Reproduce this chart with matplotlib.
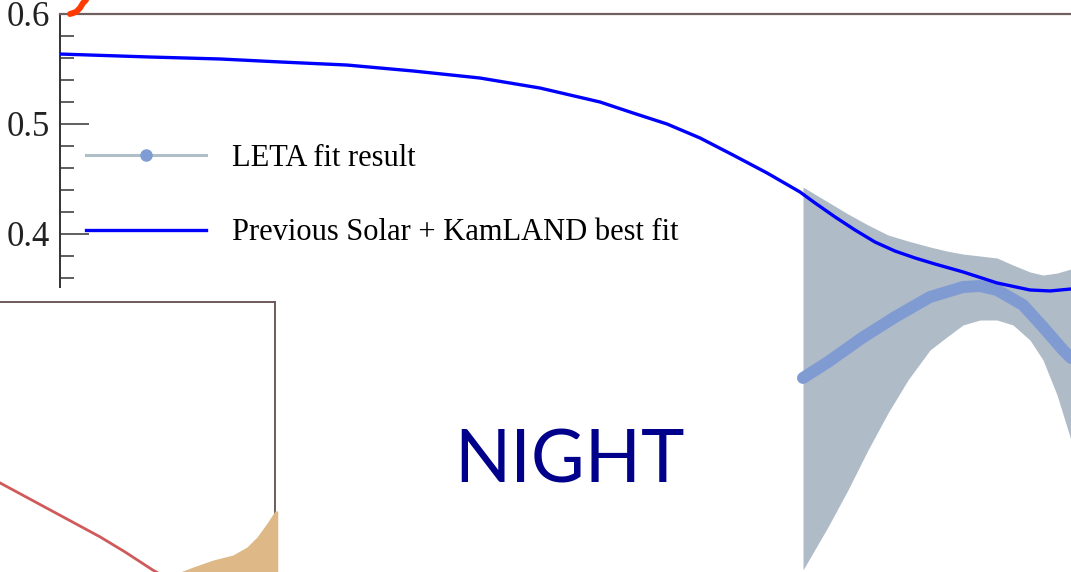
import matplotlib
matplotlib.use("Agg")
import matplotlib.pyplot as plt
from matplotlib.lines import Line2D

# survival probability curves, energy in MeV
best_fit_x = [0.000, 0.890, 1.583, 2.176, 2.839, 3.492, 4.154, 4.748, 5.341,
              5.668, 6.004, 6.330, 6.657, 6.993, 7.319, 7.468, 7.666, 7.864,
              8.061, 8.259, 8.457, 8.655, 8.932, 9.268, 9.594, 9.792, 10.000]
best_fit_y = [0.5636, 0.5609, 0.5591, 0.5564, 0.5536, 0.5482, 0.5418, 0.5327,
              0.5200, 0.5100, 0.5000, 0.4873, 0.4718, 0.4555, 0.4382, 0.4282,
              0.4155, 0.4036, 0.3927, 0.3845, 0.3782, 0.3727, 0.3655, 0.3555,
              0.3491, 0.3482, 0.3500]

leta_x = [7.349, 7.596, 7.794, 7.992, 8.190, 8.388, 8.605, 8.773, 8.932,
          9.100, 9.268, 9.426, 9.594, 9.723, 9.862, 10.000]
leta_hi = [0.4427, 0.4291, 0.4182, 0.4082, 0.3991, 0.3936, 0.3882, 0.3845,
           0.3818, 0.3800, 0.3782, 0.3718, 0.3655, 0.3627, 0.3645, 0.3682]
leta_lo = [0.0945, 0.1336, 0.1673, 0.2036, 0.2373, 0.2673, 0.2945, 0.3064,
           0.3173, 0.3218, 0.3218, 0.3173, 0.3036, 0.2855, 0.2536, 0.2127]
leta_mid_x = [7.349, 7.596, 7.933, 8.259, 8.605, 8.932, 9.100, 9.268, 9.525,
              9.723, 9.921, 10.000]
leta_mid_y = [0.2691, 0.2836, 0.3055, 0.3245, 0.3427, 0.3518, 0.3527, 0.3491,
              0.3355, 0.3155, 0.2945, 0.2873]

# small panel in the lower left
day_x = [0.0, 0.182, 0.364, 0.455, 0.556, 0.62]
day_y = [0.33, 0.23, 0.13, 0.074, 0.007, -0.03]
tan_x = [0.655, 0.702, 0.775, 0.847, 0.898, 0.935, 0.971, 1.0, 1.01]
tan_y = [0.0, 0.0185, 0.0444, 0.063, 0.0926, 0.13, 0.181, 0.226, 0.226]

serif = ["Liberation Serif", "DejaVu Serif"]

fig = plt.figure(figsize=(10.71, 5.72), dpi=100)
ax = fig.add_axes([60 / 1071, 0.0, 1011 / 1071, 558 / 572])

ax.fill_between(leta_x, leta_lo, leta_hi, color="#afbcc7", lw=0, zorder=1)
ax.plot(leta_mid_x, leta_mid_y, color="#7f9bd2", lw=8.6,
        solid_capstyle="round", solid_joinstyle="round", zorder=2)
ax.plot(best_fit_x, best_fit_y, color="#0000ff", lw=2.4,
        solid_joinstyle="round", zorder=3)

ax.set_xlim(0, 10)
ax.set_ylim(0.0927, 0.6)
ax.set_yticks([0.4, 0.5, 0.6])
ax.set_yticks([0.36, 0.38, 0.42, 0.44, 0.46, 0.48, 0.52, 0.54, 0.56, 0.58],
              minor=True)
ax.set_yticklabels(["0.4", "0.5", "0.6"], family=serif, fontsize=25,
                   color="#222222")
ax.set_xticks([])
ax.tick_params(axis="y", which="major", direction="in", length=21, width=1.1,
               pad=7, color="#333333")
ax.tick_params(axis="y", which="minor", direction="in", length=10, width=1.1,
               color="#333333")
ax.spines["left"].set_bounds(0.352, 0.6)
ax.spines["left"].set_color("#333333")
ax.spines["left"].set_linewidth(1.4)
ax.spines["top"].set_color("#6f5f5f")
ax.spines["top"].set_linewidth(1.6)
ax.spines["right"].set_visible(False)
ax.spines["bottom"].set_visible(False)

handles = [
    Line2D([], [], color="#b0bec8", lw=2.2, marker="o", markersize=8,
           markerfacecolor="#7f9dd4", markeredgecolor="#7f9dd4"),
    Line2D([], [], color="#0000ff", lw=2.4),
]
ax.legend(handles, ["LETA fit result", "Previous Solar + KamLAND best fit"],
          loc="upper left", bbox_to_anchor=(26 / 1011, 0.767), frameon=False,
          prop={"family": serif, "size": 22}, handlelength=3.92,
          handletextpad=0.85, labelspacing=1.48, numpoints=1,
          borderpad=0, borderaxespad=0)

ax.text(0.504, 0.1595, "NIGHT", transform=ax.transAxes, ha="center",
        va="baseline", fontsize=53, family=["Lato", "DejaVu Sans"],
        color="#00008b")

# stray curve poking in above the top-left corner
fig.add_artist(Line2D([70 / 1071, 76 / 1071, 80 / 1071, 83 / 1071, 86 / 1071],
                      [1 - 14 / 572, 1 - 12 / 572, 1 - 8 / 572, 1 - 3 / 572, 1.0],
                      color="#ff3a00", lw=4.3, solid_capstyle="round"))

inset = fig.add_axes([0.0, 0.0, 275 / 1071, 270 / 572])
inset.set_facecolor("white")
inset.plot(day_x, day_y, color="#d05a5a", lw=2.0)
inset.fill_between(tan_x, 0, tan_y, color="#deb887", lw=0, zorder=3,
                   clip_on=False)
inset.set_xlim(0, 1)
inset.set_ylim(0, 1)
inset.set_xticks([])
inset.set_yticks([])
for side in ["left", "bottom"]:
    inset.spines[side].set_visible(False)
for side in ["top", "right"]:
    inset.spines[side].set_color("#6f5a5a")
    inset.spines[side].set_linewidth(1.4)

fig.savefig("out.png", dpi=100)
